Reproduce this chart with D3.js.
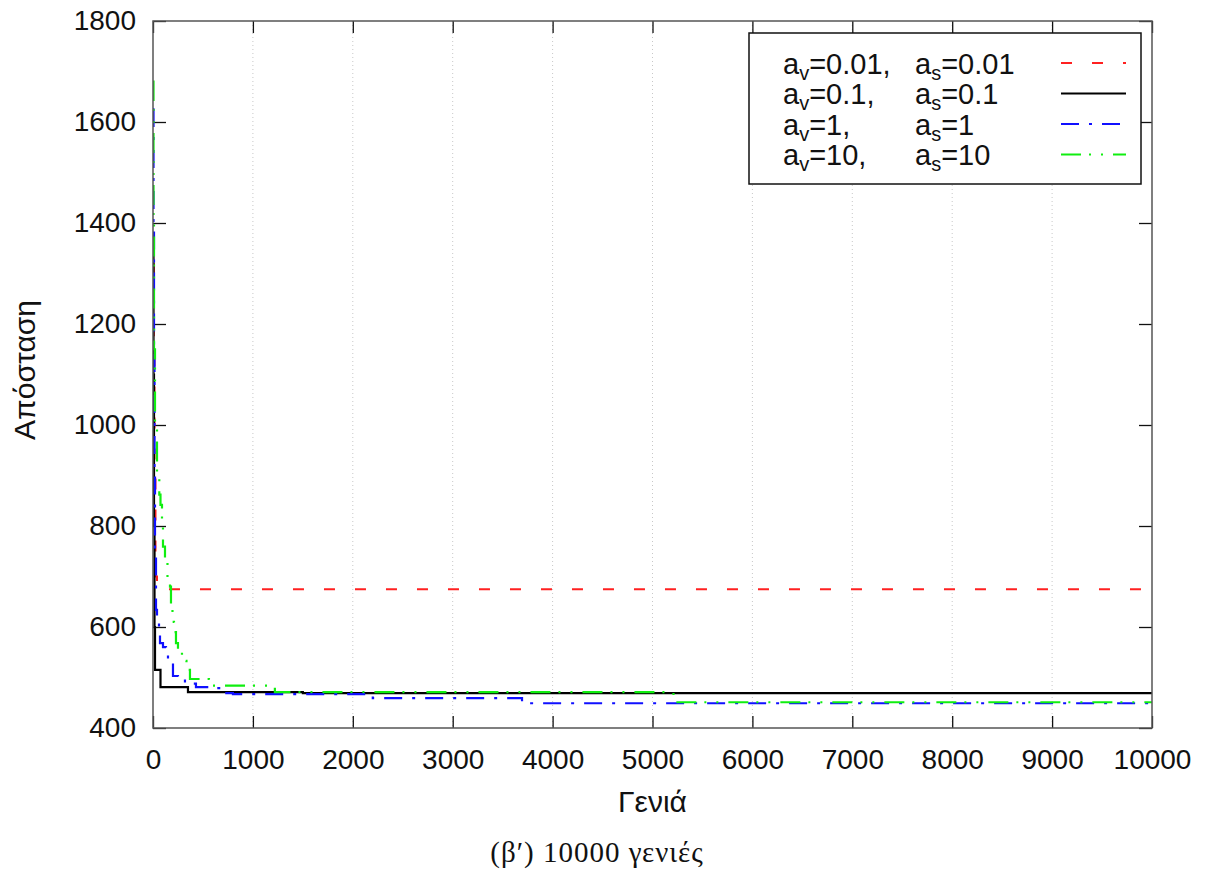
<!DOCTYPE html>
<html>
<head>
<meta charset="utf-8">
<script src="https://cdn.jsdelivr.net/npm/d3@7"></script>
<style>
  body { margin: 0; background: #fff; }
  svg { display: block; }
  .tick text { font-family: "Liberation Sans", Arial, sans-serif; font-size: 28px; fill: #111; }
</style>
</head>
<body>
<div id="chart"></div>
<script>
// Convergence of distance per generation, 4 parameter settings

// x tick values and y tick values
var xTicks = [0, 1000, 2000, 3000, 4000, 5000, 6000, 7000, 8000, 9000, 10000];
var yTicks = [400, 600, 800, 1000, 1200, 1400, 1600, 1800];

// legend labels (first part av, second part as)
var avLabels = ["0.01,", "0.1,", "1,", "10,"];
var asLabels = ["0.01", "0.1", "1", "10"];

// series: [generation, best distance]
var red = [[0, 1380], [8, 1150], [15, 900], [25, 700], [40, 675], [10000, 675]];
var black = [[0, 1380], [5, 1100], [10, 800], [15, 600], [20, 515], [75, 481], [350, 471], [1500, 469], [10000, 469]];
var blue = [[0, 1625], [5, 1400], [10, 1150], [15, 900], [20, 750], [30, 634], [40, 608], [60, 590],
  [70, 568], [100, 560], [130, 545], [150, 533], [200, 503], [250, 501], [320, 488], [430, 481],
  [560, 479], [690, 469], [800, 467], [2200, 459], [3694, 449], [10000, 449]];
var green = [[0, 1680], [5, 1400], [10, 1150], [20, 1000], [40, 897], [63, 862], [75, 842], [90, 798],
  [100, 759], [120, 727], [145, 690], [170, 680], [180, 640], [195, 610], [210, 590], [230, 568],
  [250, 551], [290, 533], [335, 515], [370, 497], [560, 484], [1220, 471], [5210, 451], [10000, 451]];

var width = 1207;
var height = 872;

// plot area edges
var pLeft = 153, pRight = 1152, pTop = 21, pBottom = 728;

var svg = d3.select("#chart").append("svg")
  .attr("width", width)
  .attr("height", height);

var xScale = d3.scaleLinear().domain([0, 10000]).range([pLeft, pRight]);
var yScale = d3.scaleLinear().domain([400, 1800]).range([pBottom, pTop]);

// vertical dotted grid
svg.append("g")
  .selectAll("line")
  .data(xTicks.slice(1, -1))
  .enter()
  .append("line")
  .attr("x1", function(d) { return xScale(d); })
  .attr("x2", function(d) { return xScale(d); })
  .attr("y1", pTop)
  .attr("y2", pBottom)
  .attr("stroke", "#c8c8c8")
  .attr("stroke-width", 1)
  .attr("stroke-dasharray", "1,3");

// axes, ticks point inward
var fmt = d3.format("d");
var xAxis = d3.axisBottom(xScale).tickValues(xTicks).tickFormat(fmt)
  .tickSizeInner(-12).tickSizeOuter(0).tickPadding(21);
var yAxis = d3.axisLeft(yScale).tickValues(yTicks).tickFormat(fmt)
  .tickSizeInner(-13).tickSizeOuter(0).tickPadding(17);

var gx = svg.append("g")
  .attr("transform", "translate(0," + pBottom + ")")
  .call(xAxis);
var gy = svg.append("g")
  .attr("transform", "translate(" + pLeft + ",0)")
  .call(yAxis);

// mirrored ticks on top and right
var gxTop = svg.append("g")
  .attr("transform", "translate(0," + pTop + ")")
  .call(d3.axisTop(xScale).tickValues(xTicks).tickSizeInner(-12).tickSizeOuter(0).tickFormat(""));
var gyRight = svg.append("g")
  .attr("transform", "translate(" + pRight + ",0)")
  .call(d3.axisRight(yScale).tickValues(yTicks).tickSizeInner(-13).tickSizeOuter(0).tickFormat(""));

[gx, gy, gxTop, gyRight].forEach(function(g) {
  g.select(".domain").remove();
  g.selectAll(".tick line").attr("stroke", "#111").attr("stroke-width", 1.3);
});

// clip for the data lines
svg.append("clipPath").attr("id", "plotClip")
  .append("rect")
  .attr("x", pLeft).attr("y", pTop)
  .attr("width", pRight - pLeft).attr("height", pBottom - pTop);

var line = d3.line()
  .curve(d3.curveStepAfter)
  .x(function(d) { return xScale(d[0]); })
  .y(function(d) { return yScale(d[1]); });

var series = [
  { data: red, color: "#ff2020", dash: "11,20", width: 2 },
  { data: black, color: "#000000", dash: null, width: 2.2 },
  { data: blue, color: "#1010ff", dash: "18,10,3,10", width: 2.2 },
  { data: green, color: "#10ee10", dash: "20,8,2,10,2,10", width: 2.2 }
];

var plot = svg.append("g").attr("clip-path", "url(#plotClip)");

series.forEach(function(s) {
  plot.append("path")
    .datum(s.data)
    .attr("d", line)
    .attr("fill", "none")
    .attr("stroke", s.color)
    .attr("stroke-width", s.width)
    .attr("stroke-dasharray", s.dash);
});

// border
svg.append("rect")
  .attr("x", pLeft).attr("y", pTop)
  .attr("width", pRight - pLeft).attr("height", pBottom - pTop)
  .attr("fill", "none")
  .attr("stroke", "#555")
  .attr("stroke-width", 1.5);

// legend
var legend = svg.append("g");
legend.append("rect")
  .attr("x", 749).attr("y", 33)
  .attr("width", 392).attr("height", 151)
  .attr("fill", "#fff")
  .attr("stroke", "#111")
  .attr("stroke-width", 1.5);

series.forEach(function(s, i) {
  var base = 73.5 + i * 30.5;
  var t1 = legend.append("text")
    .attr("x", 783).attr("y", base)
    .attr("font-family", "Liberation Sans, Arial, sans-serif")
    .attr("font-size", 29).attr("fill", "#111");
  t1.append("tspan").text("a");
  t1.append("tspan").attr("font-size", 20).attr("dy", 6).text("v");
  t1.append("tspan").attr("dy", -6).text("=" + avLabels[i]);

  var t2 = legend.append("text")
    .attr("x", 915).attr("y", base)
    .attr("font-family", "Liberation Sans, Arial, sans-serif")
    .attr("font-size", 29).attr("fill", "#111");
  t2.append("tspan").text("a");
  t2.append("tspan").attr("font-size", 20).attr("dy", 6).text("s");
  t2.append("tspan").attr("dy", -6).text("=" + asLabels[i]);

  legend.append("line")
    .attr("x1", 1061).attr("x2", 1126)
    .attr("y1", base - 10.5).attr("y2", base - 10.5)
    .attr("stroke", s.color)
    .attr("stroke-width", s.width)
    .attr("stroke-dasharray", s.dash);
});

// axis titles
svg.append("text")
  .attr("x", (pLeft + pRight) / 2).attr("y", 812)
  .attr("text-anchor", "middle")
  .attr("font-family", "Liberation Sans, Arial, sans-serif")
  .attr("font-size", 30).attr("fill", "#111")
  .text("Γενιά");

svg.append("text")
  .attr("transform", "translate(35,370) rotate(-90)")
  .attr("text-anchor", "middle")
  .attr("font-family", "Liberation Sans, Arial, sans-serif")
  .attr("font-size", 30).attr("fill", "#111")
  .text("Απόσταση");

// caption
svg.append("text")
  .attr("x", 597).attr("y", 862)
  .attr("text-anchor", "middle")
  .attr("font-family", "Liberation Serif, serif")
  .attr("font-size", 29).attr("letter-spacing", 1).attr("fill", "#111")
  .text("(β′) 10000 γενιές");
</script>
</body>
</html>
